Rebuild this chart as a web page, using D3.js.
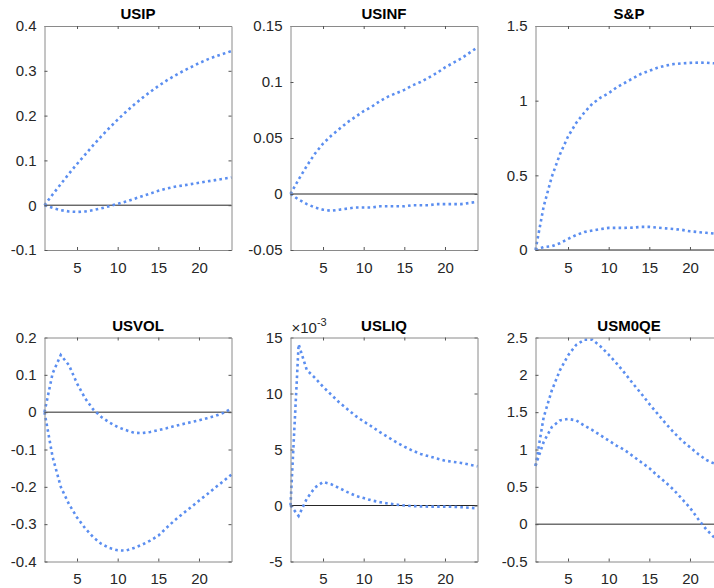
<!DOCTYPE html>
<html>
<head>
    <style>
        body { margin: 0; background: #fff; }
        svg text { font-family: "Liberation Sans", Arial, sans-serif; fill: #262626; }
        .title { font-weight: bold; font-size: 15px; fill: #000; }
    </style>
    <script src="https://d3js.org/d3.v7.min.js"></script>
</head>
<body>
<svg width="714" height="588"></svg>
<script>
    // horizons on the x axis
    var horizon = [1,2,3,4,5,6,7,8,9,10,11,12,13,14,15,16,17,18,19,20,21,22,23,24];
    var xTicks = [5, 10, 15, 20];

    var titles = ["USIP", "USINF", "S&P", "USVOL", "USLIQ", "USM0QE"];

    // y axis ranges and tick labels per panel
    var yDomains = [[-0.1, 0.4], [-0.05, 0.15], [0, 1.5], [-0.4, 0.2], [-5, 15], [-0.5, 2.5]];
    var yTicks = [
        [-0.1, 0, 0.1, 0.2, 0.3, 0.4],
        [-0.05, 0, 0.05, 0.1, 0.15],
        [0, 0.5, 1, 1.5],
        [-0.4, -0.3, -0.2, -0.1, 0, 0.1, 0.2],
        [-5, 0, 5, 10, 15],
        [-0.5, 0, 0.5, 1, 1.5, 2, 2.5]
    ];

    // upper / lower bands (USLIQ in units of 1e-3)
    var usipUp  = [0,0.024,0.047,0.07,0.092,0.113,0.134,0.154,0.173,0.191,0.208,0.224,0.239,0.253,0.266,0.278,0.289,0.299,0.308,0.317,0.325,0.332,0.338,0.344];
    var usipLo  = [0,-0.006,-0.011,-0.014,-0.015,-0.014,-0.011,-0.007,-0.002,0.003,0.008,0.014,0.02,0.026,0.032,0.037,0.041,0.044,0.047,0.05,0.053,0.056,0.059,0.062];
    var usinfUp = [0,0.013,0.025,0.036,0.045,0.052,0.058,0.064,0.069,0.074,0.078,0.083,0.087,0.09,0.093,0.097,0.1,0.104,0.108,0.113,0.117,0.121,0.126,0.131];
    var usinfLo = [0,-0.005,-0.009,-0.012,-0.014,-0.015,-0.014,-0.013,-0.012,-0.012,-0.012,-0.011,-0.011,-0.011,-0.011,-0.01,-0.01,-0.01,-0.009,-0.009,-0.009,-0.009,-0.008,-0.007];
    var spUp    = [0,0.29,0.49,0.64,0.76,0.85,0.92,0.98,1.02,1.05,1.09,1.12,1.15,1.18,1.2,1.22,1.235,1.245,1.25,1.253,1.255,1.254,1.25,1.245];
    var spLo    = [0,0.02,0.025,0.045,0.074,0.1,0.12,0.13,0.14,0.148,0.148,0.148,0.15,0.155,0.155,0.15,0.145,0.14,0.135,0.125,0.12,0.115,0.11,0.108];
    var usvolUp = [0,0.104,0.153,0.126,0.077,0.037,0.007,-0.013,-0.028,-0.04,-0.048,-0.055,-0.056,-0.053,-0.048,-0.043,-0.037,-0.032,-0.027,-0.022,-0.016,-0.01,-0.002,0.01];
    var usvolLo = [0,-0.12,-0.2,-0.246,-0.282,-0.311,-0.335,-0.353,-0.364,-0.37,-0.371,-0.364,-0.355,-0.344,-0.331,-0.31,-0.29,-0.272,-0.255,-0.237,-0.22,-0.202,-0.185,-0.167];
    var usliqUp = [0,14.4,12.1,11.4,10.6,9.9,9.2,8.6,8.0,7.5,7.05,6.55,6.1,5.65,5.26,4.9,4.6,4.4,4.2,4.0,3.9,3.8,3.65,3.5];
    var usliqLo = [0,-0.93,0.6,1.6,2.1,1.9,1.55,1.2,0.87,0.66,0.45,0.3,0.18,0.08,0,-0.05,-0.08,-0.1,-0.1,-0.1,-0.12,-0.15,-0.2,-0.25];
    var m0Up    = [0.78,1.43,1.79,2.06,2.26,2.4,2.47,2.47,2.38,2.27,2.15,2.02,1.88,1.75,1.61,1.48,1.35,1.23,1.12,1.03,0.94,0.86,0.81,0.76];
    var m0Lo    = [0.78,1.1,1.3,1.39,1.41,1.39,1.32,1.26,1.19,1.12,1.05,0.99,0.91,0.83,0.75,0.65,0.56,0.46,0.34,0.22,0.07,-0.07,-0.18,-0.28];

    var bands = [[usipUp, usipLo], [usinfUp, usinfLo], [spUp, spLo], [usvolUp, usvolLo], [usliqUp, usliqLo], [m0Up, m0Lo]];

    var svg = d3.select("svg");
    var colLeft = [44.5, 290.5, 535.5], rowTop = [26, 337.5];
    var w = 187, h = 224;
    var blue = "#5b8ef0";

    titles.forEach(function(title, i) {
        var col = i % 3, row = Math.floor(i / 3);
        var g = svg.append("g")
            .attr("transform", "translate(" + colLeft[col] + "," + rowTop[row] + ")");

        var x = d3.scaleLinear().domain([1, 24]).range([0, w]);
        var y = d3.scaleLinear().domain(yDomains[i]).range([h, 0]);

        // zero line
        g.append("line")
            .attr("x1", 0).attr("x2", w)
            .attr("y1", y(0)).attr("y2", y(0))
            .attr("stroke", "#262626").attr("stroke-width", 1);

        var line = d3.line()
            .x(function(d, k) { return x(horizon[k]); })
            .y(function(d) { return y(d); });

        bands[i].forEach(function(s) {
            g.append("path")
                .attr("d", line(s))
                .attr("fill", "none")
                .attr("stroke", blue)
                .attr("stroke-width", 2.6)
                .attr("stroke-dasharray", "2.6,3.2");
        });

        // axes (MATLAB style, ticks inward, box)
        g.append("g").attr("transform", "translate(0," + h + ")")
            .call(d3.axisBottom(x).tickValues(xTicks).tickSizeInner(-3).tickSizeOuter(0).tickPadding(12));
        g.append("g")
            .call(d3.axisLeft(y).tickValues(yTicks[i]).tickFormat(function(d) { return String(+d.toFixed(3)); })
                .tickSizeInner(-3).tickSizeOuter(0).tickPadding(8));
        g.append("g").attr("transform", "translate(" + w + ",0)")
            .call(d3.axisRight(y).tickValues(yTicks[i]).tickFormat("").tickSizeInner(-3).tickSizeOuter(0));
        g.append("g")
            .call(d3.axisTop(x).tickValues(xTicks).tickFormat("").tickSizeInner(-3).tickSizeOuter(0));
        g.selectAll(".domain").attr("stroke", "#8a8a8a");
        g.selectAll(".tick line").attr("stroke", "#555");
        g.selectAll(".tick text").attr("fill", "#262626")
            .style("font-size", "15px").style("font-family", "'Liberation Sans', Arial, sans-serif");

        g.append("text")
            .attr("class", "title")
            .attr("x", w / 2).attr("y", -7)
            .attr("text-anchor", "middle")
            .text(title);

        if (title === "USLIQ") {
            var ex = g.append("text").attr("x", 1).attr("y", -5).style("font-size", "15px");
            ex.append("tspan").text("\u00d710");
            ex.append("tspan").attr("dy", -7).style("font-size", "11px").text("-3");
        }
    });
</script>
</body>
</html>
